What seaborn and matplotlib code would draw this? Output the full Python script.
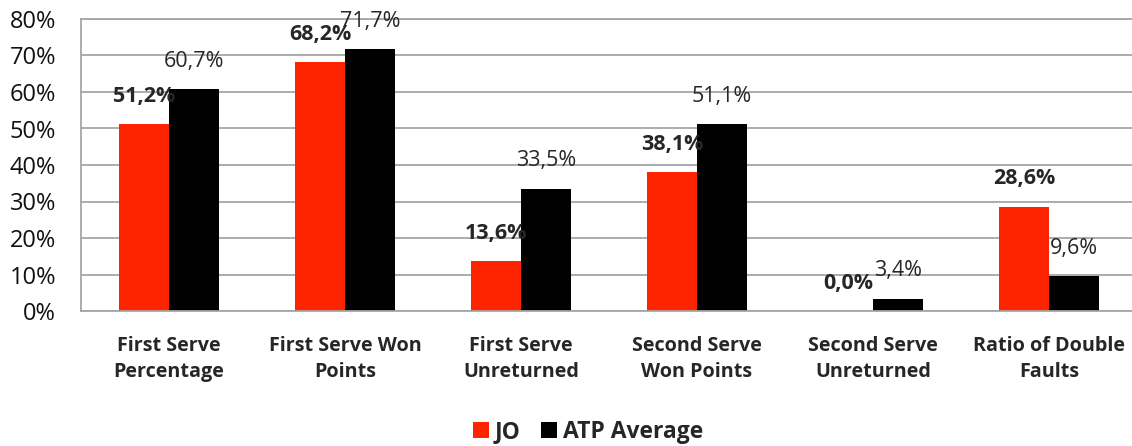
import matplotlib
matplotlib.use("Agg")
import matplotlib.pyplot as plt
import pandas as pd
import seaborn as sns

# chart data
categories = ["First Serve\nPercentage", "First Serve Won\nPoints", "First Serve\nUnreturned",
              "Second Serve\nWon Points", "Second Serve\nUnreturned", "Ratio of Double\nFaults"]
jo_values = [51.2, 68.2, 13.6, 38.1, 0.0, 28.6]
atp_values = [60.7, 71.7, 33.5, 51.1, 3.4, 9.6]
series_names = ["JO", "ATP Average"]
y_ticks = [0, 10, 20, 30, 40, 50, 60, 70, 80]

df = pd.DataFrame({
    "Category": categories * 2,
    "Value": jo_values + atp_values,
    "Series": [series_names[0]] * len(categories) + [series_names[1]] * len(categories),
})

sns.set_style("white")
plt.rcParams['font.family'] = ['Open Sans', 'DejaVu Sans']

grey = "#a6a6a6"
fig = plt.figure(figsize=(11.32, 4.46), dpi=100)
ax = fig.add_axes([81 / 1132, 1 - 311 / 446, 1056 / 1132, 292 / 446])

sns.barplot(data=df, x="Category", y="Value", hue="Series",
            palette={"JO": "#FF2400", "ATP Average": "#000000"},
            width=0.57, saturation=1, linewidth=0, ax=ax)

ax.set_xlim(-0.5, 5.5)
ax.set_ylim(0, 80)
ax.set_yticks(y_ticks)
ax.set_yticklabels([f"{t}%" for t in y_ticks])
ax.set_xlabel("")
ax.set_ylabel("")
ax.yaxis.grid(True, color=grey, lw=1.3)
ax.set_axisbelow(True)
for side in ["left", "bottom", "top"]:
    ax.spines[side].set_color(grey)
    ax.spines[side].set_linewidth(1.3)
ax.spines["right"].set_visible(False)
ax.tick_params(axis="y", length=0, pad=18, labelsize=17, labelcolor="#111111")
ax.tick_params(axis="x", length=0, pad=18, labelsize=14.2)
for lbl in ax.get_xticklabels():
    lbl.set_fontweight("bold")
    lbl.set_linespacing(1.4)

# value labels
for container, values, weight in zip(ax.containers, [jo_values, atp_values], ["bold", "normal"]):
    for bar, v in zip(container, values):
        ax.annotate(f"{v:.1f}%".replace(".", ","),
                    xy=(bar.get_x() + bar.get_width() / 2, bar.get_height()),
                    xytext=(0, 20), textcoords="offset points",
                    ha="center", va="center", fontsize=15.5, fontweight=weight,
                    annotation_clip=False)

handles, labels = ax.get_legend_handles_labels()
ax.legend_.remove()
fig.legend(handles, labels, loc="center", bbox_to_anchor=(588 / 1132, 1 - 432 / 446),
           ncol=2, frameon=False, handlelength=0.7, handleheight=0.7,
           handletextpad=0.25, columnspacing=0.9,
           prop={"weight": "bold", "size": 16.5})

fig.savefig("out.png", dpi=100)
